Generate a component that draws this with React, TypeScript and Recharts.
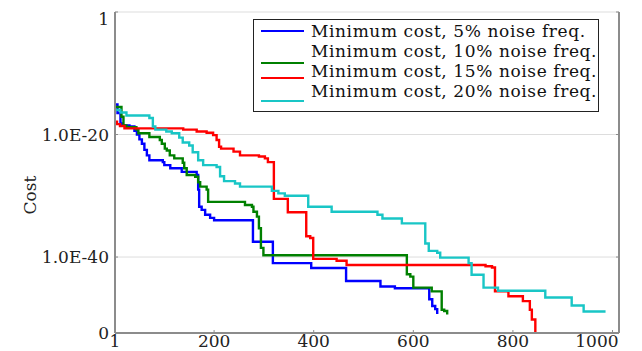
import { LineChart, Line, XAxis, YAxis, CartesianGrid, Legend } from "recharts";

// iteration -> log10(minimum cost). A cost of 0 is drawn on the bottom edge (FLOOR).
const FLOOR = -52.4;

const noise5: [number, number][] = [
  [1, -15.1], [6, -16.5], [12, -18.2], [16, -18.5], [30, -18.7], [40, -19.4], [45, -20.0],
  [50, -20.8], [55, -21.5], [60, -22.5], [65, -23.4], [70, -24.2], [97, -24.5], [100, -25.0],
  [112, -25.5], [135, -26.1], [165, -26.6], [168, -29.0], [170, -31.8], [175, -32.3],
  [182, -33.1], [192, -33.6], [200, -34.0], [278, -37.5], [318, -41.0], [395, -41.8],
  [465, -43.9], [534, -44.8], [563, -45.1], [632, -46.9], [638, -48.0], [644, -48.5],
  [648, -49.3],
];

const noise10: [number, number][] = [
  [3, -15.5], [14, -17.1], [18, -18.5], [24, -18.8], [44, -19.2], [48, -19.8], [70, -20.4],
  [91, -20.9], [95, -21.5], [101, -22.3], [105, -22.6], [111, -23.4], [120, -23.9],
  [137, -24.6], [140, -25.5], [145, -26.6], [162, -26.9], [168, -27.8], [172, -28.5],
  [185, -29.0], [188, -31.0], [262, -31.5], [276, -31.8], [279, -32.6], [286, -33.4],
  [290, -35.3], [294, -38.5], [299, -39.7], [587, -42.8], [594, -43.2], [600, -45.0],
  [637, -45.6], [657, -48.6], [662, -48.8], [668, -49.4],
];

const noise15: [number, number][] = [
  [1, -17.9], [5, -18.3], [11, -18.6], [20, -19.0], [138, -19.2], [165, -19.5], [185, -19.7],
  [198, -20.1], [205, -20.9], [210, -22.0], [214, -22.3], [239, -22.8], [252, -23.4],
  [290, -23.6], [302, -23.9], [308, -24.5], [320, -30.5], [348, -32.7], [385, -36.6],
  [393, -36.9], [399, -40.3], [446, -40.6], [466, -41.3], [745, -41.5], [758, -41.7],
  [764, -45.6], [791, -46.4], [820, -47.2], [834, -48.6], [838, -50.2], [845, FLOOR],
];

const noise20: [number, number][] = [
  [1, -16.0], [12, -16.4], [24, -16.9], [70, -17.3], [77, -18.7], [82, -19.2], [104, -19.5],
  [115, -19.8], [130, -20.5], [137, -21.3], [150, -21.8], [157, -22.9], [168, -24.2],
  [178, -25.0], [205, -25.3], [212, -26.8], [220, -27.6], [242, -28.0], [252, -28.5],
  [316, -29.2], [329, -29.6], [342, -30.0], [389, -31.8], [436, -32.6], [528, -33.1],
  [538, -33.7], [577, -34.5], [624, -37.8], [631, -39.0], [648, -39.3], [654, -40.1],
  [711, -41.0], [717, -42.9], [741, -45.0], [770, -45.5], [865, -46.6], [918, -47.9],
  [942, -48.9], [986, -48.9],
];

const seriesNames = [
  "Minimum cost, 5% noise freq.",
  "Minimum cost, 10% noise freq.",
  "Minimum cost, 15% noise freq.",
  "Minimum cost, 20% noise freq.",
];
const seriesColors = ["#0000ff", "#008000", "#ff0000", "#19c6c6"];
const seriesData = [noise5, noise10, noise15, noise20];

const xTicks = [1, 200, 400, 600, 800, 1000];
const yTicks = [0, -20, -40, FLOOR];
const yTickLabels = ["1", "1.0E-20", "1.0E-40", "0"];

const FONT = "DejaVu Serif";
const axisGray = "#8c8c8c";

const toPoints = (s: [number, number][]) => s.map(([x, y]) => ({ x, y }));

function LeftTick({ x, y, payload }: any) {
  const i = yTicks.indexOf(payload.value);
  const isTop = payload.value === 0;
  return (
    <g>
      <line x1={x} y1={y} x2={x + 3} y2={y} stroke={axisGray} />
      <text x={x - 6} y={isTop ? y + 7 : y} dy="0.36em" textAnchor="end"
        fontFamily={FONT} fontSize={17} fill="#222">
        {yTickLabels[i]}
      </text>
    </g>
  );
}

function RightTick({ x, y }: any) {
  return <line x1={x} y1={y} x2={x - 3} y2={y} stroke={axisGray} />;
}

function BottomTick({ x, y, payload }: any) {
  const last = payload.value === xTicks[xTicks.length - 1];
  return (
    <g>
      <line x1={x} y1={y} x2={x} y2={y - 3} stroke={axisGray} />
      <text x={last ? x + 6 : x} y={y + 14} textAnchor={last ? "end" : "middle"}
        fontFamily={FONT} fontSize={17} fill="#222">
        {payload.value}
      </text>
    </g>
  );
}

function TopTick({ x, y }: any) {
  return <line x1={x} y1={y} x2={x} y2={y + 3} stroke={axisGray} />;
}

// legend rows: text centre and the (slightly offset) colour sample, from the box top
const textCentres = [12, 32, 52, 72];
const lineYs = [12.4, 44, 59, 82.4];

function LegendBox() {
  return (
    <div style={{
      position: "relative", width: 346, height: 93, boxSizing: "border-box",
      border: "1.4px solid #222", background: "#fff", fontFamily: FONT, fontSize: 17,
      letterSpacing: 0.6, color: "#111",
    }}>
      {seriesNames.map((name, i) => (
        <div key={name}>
          <div style={{
            position: "absolute", left: 7, top: lineYs[i] - 2.5, width: 43, height: 2.2,
            background: seriesColors[i],
          }} />
          <div style={{
            position: "absolute", left: 57, top: textCentres[i] - 10.5, lineHeight: "19px",
            whiteSpace: "nowrap",
          }}>
            {name}
          </div>
        </div>
      ))}
    </div>
  );
}

function CostLabel() {
  return (
    <text x={0} y={0} transform="translate(22, 187) rotate(-90)" textAnchor="middle"
      dominantBaseline="central" fontFamily={FONT} fontSize={17} fill="#222">
      Cost
    </text>
  );
}

export default function App() {
  return (
    <LineChart width={634} height={343} margin={{ top: 4, right: 22, bottom: 0, left: 0 }}>
      <CartesianGrid xAxisId="b" yAxisId="l" vertical={false} stroke="#dddddd" />
      <XAxis xAxisId="b" dataKey="x" type="number" domain={[1, 1013]} ticks={xTicks}
        allowDataOverflow height={18} tickSize={0} tickMargin={0} tickLine={false}
        axisLine={{ stroke: axisGray, strokeWidth: 2 }} tick={<BottomTick />} interval={0} />
      <XAxis xAxisId="t" orientation="top" dataKey="x" type="number" domain={[1, 1013]}
        ticks={xTicks} allowDataOverflow height={0} tickSize={0} tickMargin={0}
        tickLine={false} axisLine={{ stroke: "#a8a8a8", strokeWidth: 1.5 }}
        tick={<TopTick />} interval={0} />
      <YAxis yAxisId="l" type="number" domain={[FLOOR, 0]} ticks={yTicks} allowDataOverflow
        width={107} tickSize={0} tickMargin={0} tickLine={false} interval={0}
        axisLine={{ stroke: axisGray, strokeWidth: 2 }} tick={<LeftTick />}
        label={{ content: <CostLabel /> }} />
      <YAxis yAxisId="r" orientation="right" type="number" domain={[FLOOR, 0]} ticks={yTicks}
        allowDataOverflow width={1} tickSize={0} tickMargin={0} tickLine={false} interval={0}
        axisLine={{ stroke: axisGray, strokeWidth: 2 }} tick={<RightTick />} />
      <Legend layout="vertical" align="center" verticalAlign="middle"
        wrapperStyle={{ left: 245, top: 11, width: 346, height: 93 }}
        content={() => <LegendBox />} />
      {seriesData.map((s, i) => (
        <Line key={seriesNames[i]} name={seriesNames[i]} xAxisId="b" yAxisId="l"
          data={toPoints(s)} dataKey="y" type="stepAfter" stroke={seriesColors[i]}
          strokeWidth={2.4} dot={false} activeDot={false} isAnimationActive={false} />
      ))}
    </LineChart>
  );
}
